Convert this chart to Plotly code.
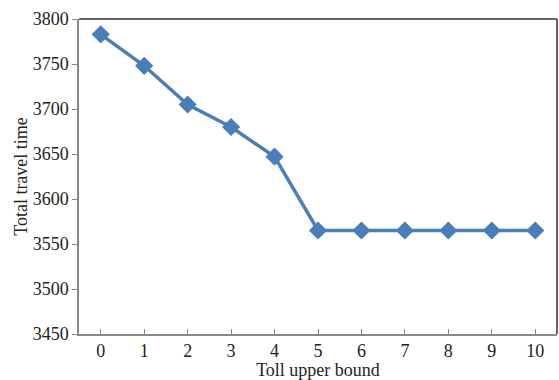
import plotly.graph_objects as go

toll_upper_bound = [0, 1, 2, 3, 4, 5, 6, 7, 8, 9, 10]
total_travel_time = [3783, 3748, 3705, 3680, 3647, 3565, 3565, 3565, 3565, 3565, 3565]
y_ticks = [3450, 3500, 3550, 3600, 3650, 3700, 3750, 3800]

font_family = "Liberation Serif, Times New Roman, serif"

fig = go.Figure()
fig.add_trace(go.Scatter(
    x=toll_upper_bound, y=total_travel_time,
    mode="lines+markers",
    line=dict(color="#4a7ebb", width=3.5),
    marker=dict(symbol="diamond", size=14, color="#4a7ebb"),
    showlegend=False,
))

fig.update_layout(
    width=559, height=380,
    margin=dict(l=79, r=2, t=19, b=46),
    paper_bgcolor="white", plot_bgcolor="white",
    font=dict(family=font_family, size=18, color="#222"),
    xaxis=dict(
        range=[-0.5, 10.5], tickvals=toll_upper_bound,
        ticktext=[str(v) for v in toll_upper_bound],
        showgrid=False, zeroline=False,
        showline=True, linecolor="#888", linewidth=1.5,
        ticks="inside", ticklen=5, tickcolor="#888",
        title=dict(text="Toll upper bound", standoff=4, font=dict(size=18)),
    ),
    yaxis=dict(
        range=[3450, 3800], tickvals=y_ticks,
        showgrid=False, zeroline=False,
        showline=True, linecolor="#888", linewidth=1.5,
        ticks="outside", ticklen=5, tickcolor="#888",
        title=dict(text="Total travel time", standoff=0, font=dict(size=18)),
    ),
    shapes=[
        dict(type="line", xref="paper", yref="paper", x0=0, x1=1, y0=1, y1=1,
             line=dict(color="#333", width=1.5)),
        dict(type="line", xref="paper", yref="paper", x0=1, x1=1, y0=0, y1=1,
             line=dict(color="#333", width=1.5)),
    ],
)

fig.write_html(
    "out.html",
    config={"displayModeBar": False},
    post_script="document.body.style.margin='0px';document.body.style.overflow='hidden';",
)
